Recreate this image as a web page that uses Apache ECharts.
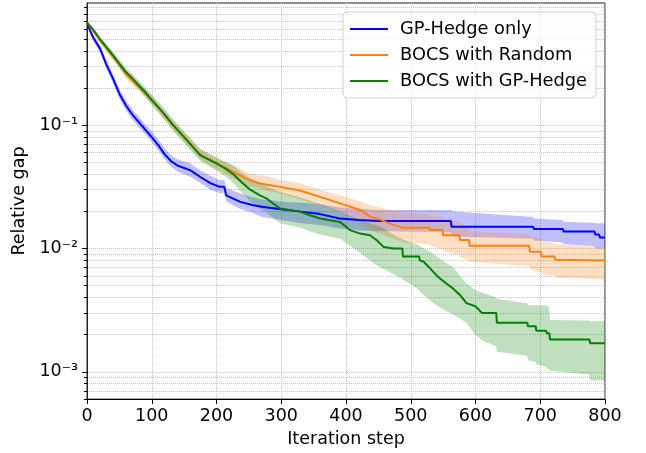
<!DOCTYPE html>
<html>
<head>
<meta charset="utf-8">
<script src="https://cdn.jsdelivr.net/npm/echarts@6/dist/echarts.min.js"></script>
<style>
  html, body { margin: 0; padding: 0; background: #fff; }
  #chart { width: 646px; height: 453px; }
</style>
</head>
<body>
<div id="chart"></div>
<script>
// GP-Hedge only: step, mean, band low / high
const hedgeX = [0, 5, 10, 20, 30, 40, 50, 60, 70, 80, 90, 100, 110, 120, 130, 140, 150, 160, 175, 190, 205, 212, 215, 236, 255, 270, 300, 330, 360, 390, 420, 450, 562, 563, 689, 690, 735, 736, 784, 785, 791, 792, 800];
const hedgeMean = [0.68, 0.58, 0.51, 0.42, 0.31, 0.24, 0.18, 0.145, 0.122, 0.106, 0.092, 0.080, 0.069, 0.058, 0.051, 0.047, 0.045, 0.043, 0.038, 0.034, 0.0316, 0.0316, 0.027, 0.024, 0.0225, 0.0218, 0.0208, 0.0199, 0.019, 0.0175, 0.0170, 0.0167, 0.0167, 0.015, 0.015, 0.0144, 0.0144, 0.0137, 0.0137, 0.013, 0.013, 0.0123, 0.0123];
const hedgeLo = [0.66, 0.55, 0.48, 0.39, 0.285, 0.22, 0.165, 0.132, 0.111, 0.096, 0.084, 0.073, 0.063, 0.053, 0.046, 0.042, 0.040, 0.038, 0.034, 0.030, 0.028, 0.028, 0.024, 0.021, 0.0195, 0.018, 0.017, 0.016, 0.0155, 0.0145, 0.014, 0.0138, 0.0136, 0.0125, 0.012, 0.0116, 0.0112, 0.0108, 0.0104, 0.0100, 0.0100, 0.0100, 0.0100];
const hedgeHi = [0.70, 0.61, 0.54, 0.45, 0.335, 0.26, 0.197, 0.16, 0.134, 0.117, 0.102, 0.089, 0.077, 0.065, 0.057, 0.053, 0.051, 0.049, 0.043, 0.039, 0.036, 0.036, 0.031, 0.028, 0.026, 0.025, 0.024, 0.0235, 0.023, 0.0215, 0.021, 0.0205, 0.0205, 0.0200, 0.0180, 0.0175, 0.0170, 0.0165, 0.0162, 0.016, 0.016, 0.016, 0.016];

// BOCS with Random
const randX = [0, 10, 20, 30, 40, 50, 60, 70, 80, 90, 100, 110, 120, 133, 150, 175, 200, 215, 231, 250, 267, 283, 298, 329, 360, 391, 422, 437, 452, 468, 488, 529, 530, 549, 550, 575, 576, 590, 591, 683, 684, 701, 702, 722, 723, 800];
const randMean = [0.68, 0.58, 0.49, 0.42, 0.36, 0.31, 0.26, 0.23, 0.205, 0.18, 0.16, 0.14, 0.12, 0.10, 0.08, 0.058, 0.049, 0.045, 0.0405, 0.036, 0.0337, 0.0326, 0.0316, 0.0295, 0.0262, 0.0232, 0.0205, 0.0182, 0.0172, 0.0159, 0.0147, 0.0147, 0.0141, 0.0141, 0.0128, 0.0128, 0.0117, 0.0117, 0.0105, 0.0105, 0.0094, 0.0094, 0.0086, 0.0086, 0.0081, 0.0080];
const randLo = [0.66, 0.555, 0.465, 0.395, 0.335, 0.29, 0.24, 0.212, 0.19, 0.166, 0.147, 0.128, 0.11, 0.091, 0.073, 0.053, 0.044, 0.040, 0.036, 0.032, 0.0307, 0.029, 0.028, 0.025, 0.0225, 0.0199, 0.0165, 0.0140, 0.0132, 0.0122, 0.0112, 0.0108, 0.0105, 0.0098, 0.0095, 0.0088, 0.0085, 0.0080, 0.0078, 0.0072, 0.0068, 0.0064, 0.0062, 0.0060, 0.0058, 0.0056];
const randHi = [0.70, 0.605, 0.515, 0.445, 0.385, 0.335, 0.28, 0.25, 0.225, 0.196, 0.175, 0.153, 0.132, 0.11, 0.088, 0.064, 0.054, 0.050, 0.046, 0.041, 0.0394, 0.038, 0.036, 0.034, 0.030, 0.027, 0.024, 0.0225, 0.0215, 0.0205, 0.0195, 0.019, 0.0185, 0.0178, 0.0172, 0.0165, 0.016, 0.0145, 0.0138, 0.013, 0.0125, 0.012, 0.0115, 0.011, 0.0108, 0.0103];

// BOCS with GP-Hedge
const bocsX = [0, 10, 20, 30, 40, 50, 60, 70, 80, 90, 100, 110, 120, 133, 150, 175, 200, 215, 226, 240, 252, 267, 277, 298, 329, 344, 360, 391, 406, 422, 437, 447, 458, 473, 487, 488, 513, 514, 520, 532, 542, 555, 566, 576, 586, 600, 610, 632, 633, 680, 681, 693, 694, 709, 710, 714, 715, 776, 777, 800];
const bocsMean = [0.68, 0.59, 0.50, 0.43, 0.37, 0.315, 0.27, 0.24, 0.21, 0.185, 0.16, 0.14, 0.122, 0.10, 0.08, 0.057, 0.049, 0.044, 0.040, 0.034, 0.030, 0.027, 0.0255, 0.0211, 0.0199, 0.0186, 0.0175, 0.0164, 0.0141, 0.0132, 0.0128, 0.0117, 0.0103, 0.0100, 0.0100, 0.0086, 0.0086, 0.0080, 0.0078, 0.0067, 0.0059, 0.0052, 0.0047, 0.0042, 0.0036, 0.0034, 0.0030, 0.0030, 0.0025, 0.0025, 0.00234, 0.00234, 0.00215, 0.00215, 0.00205, 0.00205, 0.00183, 0.00183, 0.0017, 0.0017];
const bocsLo = [0.66, 0.565, 0.475, 0.405, 0.345, 0.293, 0.25, 0.222, 0.194, 0.17, 0.146, 0.127, 0.11, 0.09, 0.072, 0.051, 0.043, 0.038, 0.034, 0.028, 0.024, 0.021, 0.0195, 0.016, 0.0148, 0.0138, 0.013, 0.012, 0.0105, 0.0092, 0.0080, 0.0073, 0.0068, 0.0062, 0.0057, 0.0056, 0.0046, 0.0045, 0.0042, 0.0037, 0.0034, 0.0031, 0.0029, 0.0027, 0.0025, 0.0020, 0.0018, 0.0016, 0.00145, 0.00135, 0.00124, 0.0012, 0.00115, 0.0011, 0.00107, 0.00105, 0.00102, 0.00095, 0.00085, 0.00085];
const bocsHi = [0.70, 0.615, 0.525, 0.455, 0.395, 0.34, 0.292, 0.26, 0.228, 0.202, 0.176, 0.155, 0.135, 0.111, 0.089, 0.064, 0.055, 0.050, 0.047, 0.041, 0.037, 0.034, 0.032, 0.0288, 0.026, 0.0245, 0.023, 0.020, 0.0185, 0.017, 0.016, 0.0155, 0.0145, 0.013, 0.0119, 0.0118, 0.0106, 0.0105, 0.0100, 0.0093, 0.0085, 0.0076, 0.0070, 0.0060, 0.0052, 0.0046, 0.0044, 0.0040, 0.0039, 0.0036, 0.00347, 0.00347, 0.00347, 0.00347, 0.00347, 0.0033, 0.00263, 0.0026, 0.00257, 0.00257];

const majorTicks = [0.001, 0.01, 0.1];
const minorTicks = [0.0006, 0.0007, 0.0008, 0.0009,
  0.002, 0.003, 0.004, 0.005, 0.006, 0.007, 0.008, 0.009,
  0.02, 0.03, 0.04, 0.05, 0.06, 0.07, 0.08, 0.09,
  0.2, 0.3, 0.4, 0.5, 0.6, 0.7, 0.8, 0.9];
const supers = {'-1': '10⁻¹', '-2': '10⁻²', '-3': '10⁻³'};

const FONT = 'DejaVu Sans';
const gridLine = {show: true, lineStyle: {color: '#c4c4c4', type: 'dotted', width: 1}};

function pairs(xs, ys) {
  return xs.map((x, i) => [x, ys[i]]);
}

// shaded band: polygon through upper edge, back along lower edge
function bandSeries(xs, lo, hi, color) {
  return {
    type: 'custom', silent: true, z: 1,
    data: [[xs[0], lo[0]]],
    renderItem: (params, api) => {
      const top = xs.map((x, i) => api.coord([x, hi[i]]));
      const bottom = xs.map((x, i) => api.coord([x, lo[i]])).reverse();
      return {type: 'polygon', shape: {points: top.concat(bottom)}, style: {fill: color}};
    }
  };
}

function lineSeries(name, xs, ys, color) {
  return {
    name: name, type: 'line', symbol: 'none',
    data: pairs(xs, ys), lineStyle: {color: color, width: 2}, itemStyle: {color: color}, z: 3
  };
}

const chart = echarts.init(document.getElementById('chart'));
const option = {
  animation: false,
  textStyle: {fontFamily: FONT},
  grid: {left: 87, right: 41, top: 3, bottom: 52, show: true, borderColor: '#222', borderWidth: 1},
  legend: {
    orient: 'vertical', right: 50, top: 12,
    data: ['GP-Hedge only', 'BOCS with Random', 'BOCS with GP-Hedge'],
    icon: 'rect', itemWidth: 38, itemHeight: 2, itemGap: 6,
    padding: [7, 9, 7, 7],
    backgroundColor: 'rgba(255,255,255,0.8)', borderColor: '#d0d0d0', borderWidth: 1, borderRadius: 4,
    textStyle: {fontFamily: FONT, fontSize: 17.8, color: '#000', padding: [0, 0, 0, 7], lineHeight: 20}
  },
  xAxis: {
    type: 'value', min: 0, max: 800, interval: 100,
    name: 'Iteration step', nameLocation: 'middle', nameGap: 22,
    nameTextStyle: {fontFamily: FONT, fontSize: 17.5, color: '#000'},
    axisLine: {lineStyle: {color: '#000', width: 1}},
    axisTick: {show: true, length: 5, lineStyle: {color: '#000'}},
    axisLabel: {fontFamily: FONT, fontSize: 17.5, color: '#000', margin: 8},
    splitLine: gridLine
  },
  yAxis: [
    {
      type: 'log', logBase: 10, min: 0.0006, max: 0.98,
      name: 'Relative gap', nameLocation: 'middle', nameGap: 56,
      nameTextStyle: {fontFamily: FONT, fontSize: 17.5, color: '#000'},
      axisLine: {show: true, lineStyle: {color: '#222', width: 1}},
      axisTick: {show: true, length: 5, customValues: majorTicks, lineStyle: {color: '#000'}},
      axisLabel: {
        fontFamily: FONT, fontSize: 17.5, color: '#000', margin: 9, customValues: majorTicks,
        formatter: v => supers[String(Math.round(Math.log10(v)))] || ''
      },
      splitLine: gridLine
    },
    {
      type: 'log', logBase: 10, min: 0.0006, max: 0.98, position: 'left',
      axisLine: {show: false},
      axisTick: {show: true, length: 3, customValues: minorTicks, lineStyle: {color: '#000'}},
      axisLabel: {show: false},
      splitLine: gridLine
    }
  ],
  series: [
    bandSeries(hedgeX, hedgeLo, hedgeHi, 'rgba(0,0,255,0.25)'),
    bandSeries(randX, randLo, randHi, 'rgba(255,127,14,0.25)'),
    bandSeries(bocsX, bocsLo, bocsHi, 'rgba(0,128,0,0.25)'),
    lineSeries('GP-Hedge only', hedgeX, hedgeMean, '#0000ff'),
    lineSeries('BOCS with Random', randX, randMean, '#ff7f0e'),
    lineSeries('BOCS with GP-Hedge', bocsX, bocsMean, '#008000')
  ]
};
chart.setOption(option);
</script>
</body>
</html>
